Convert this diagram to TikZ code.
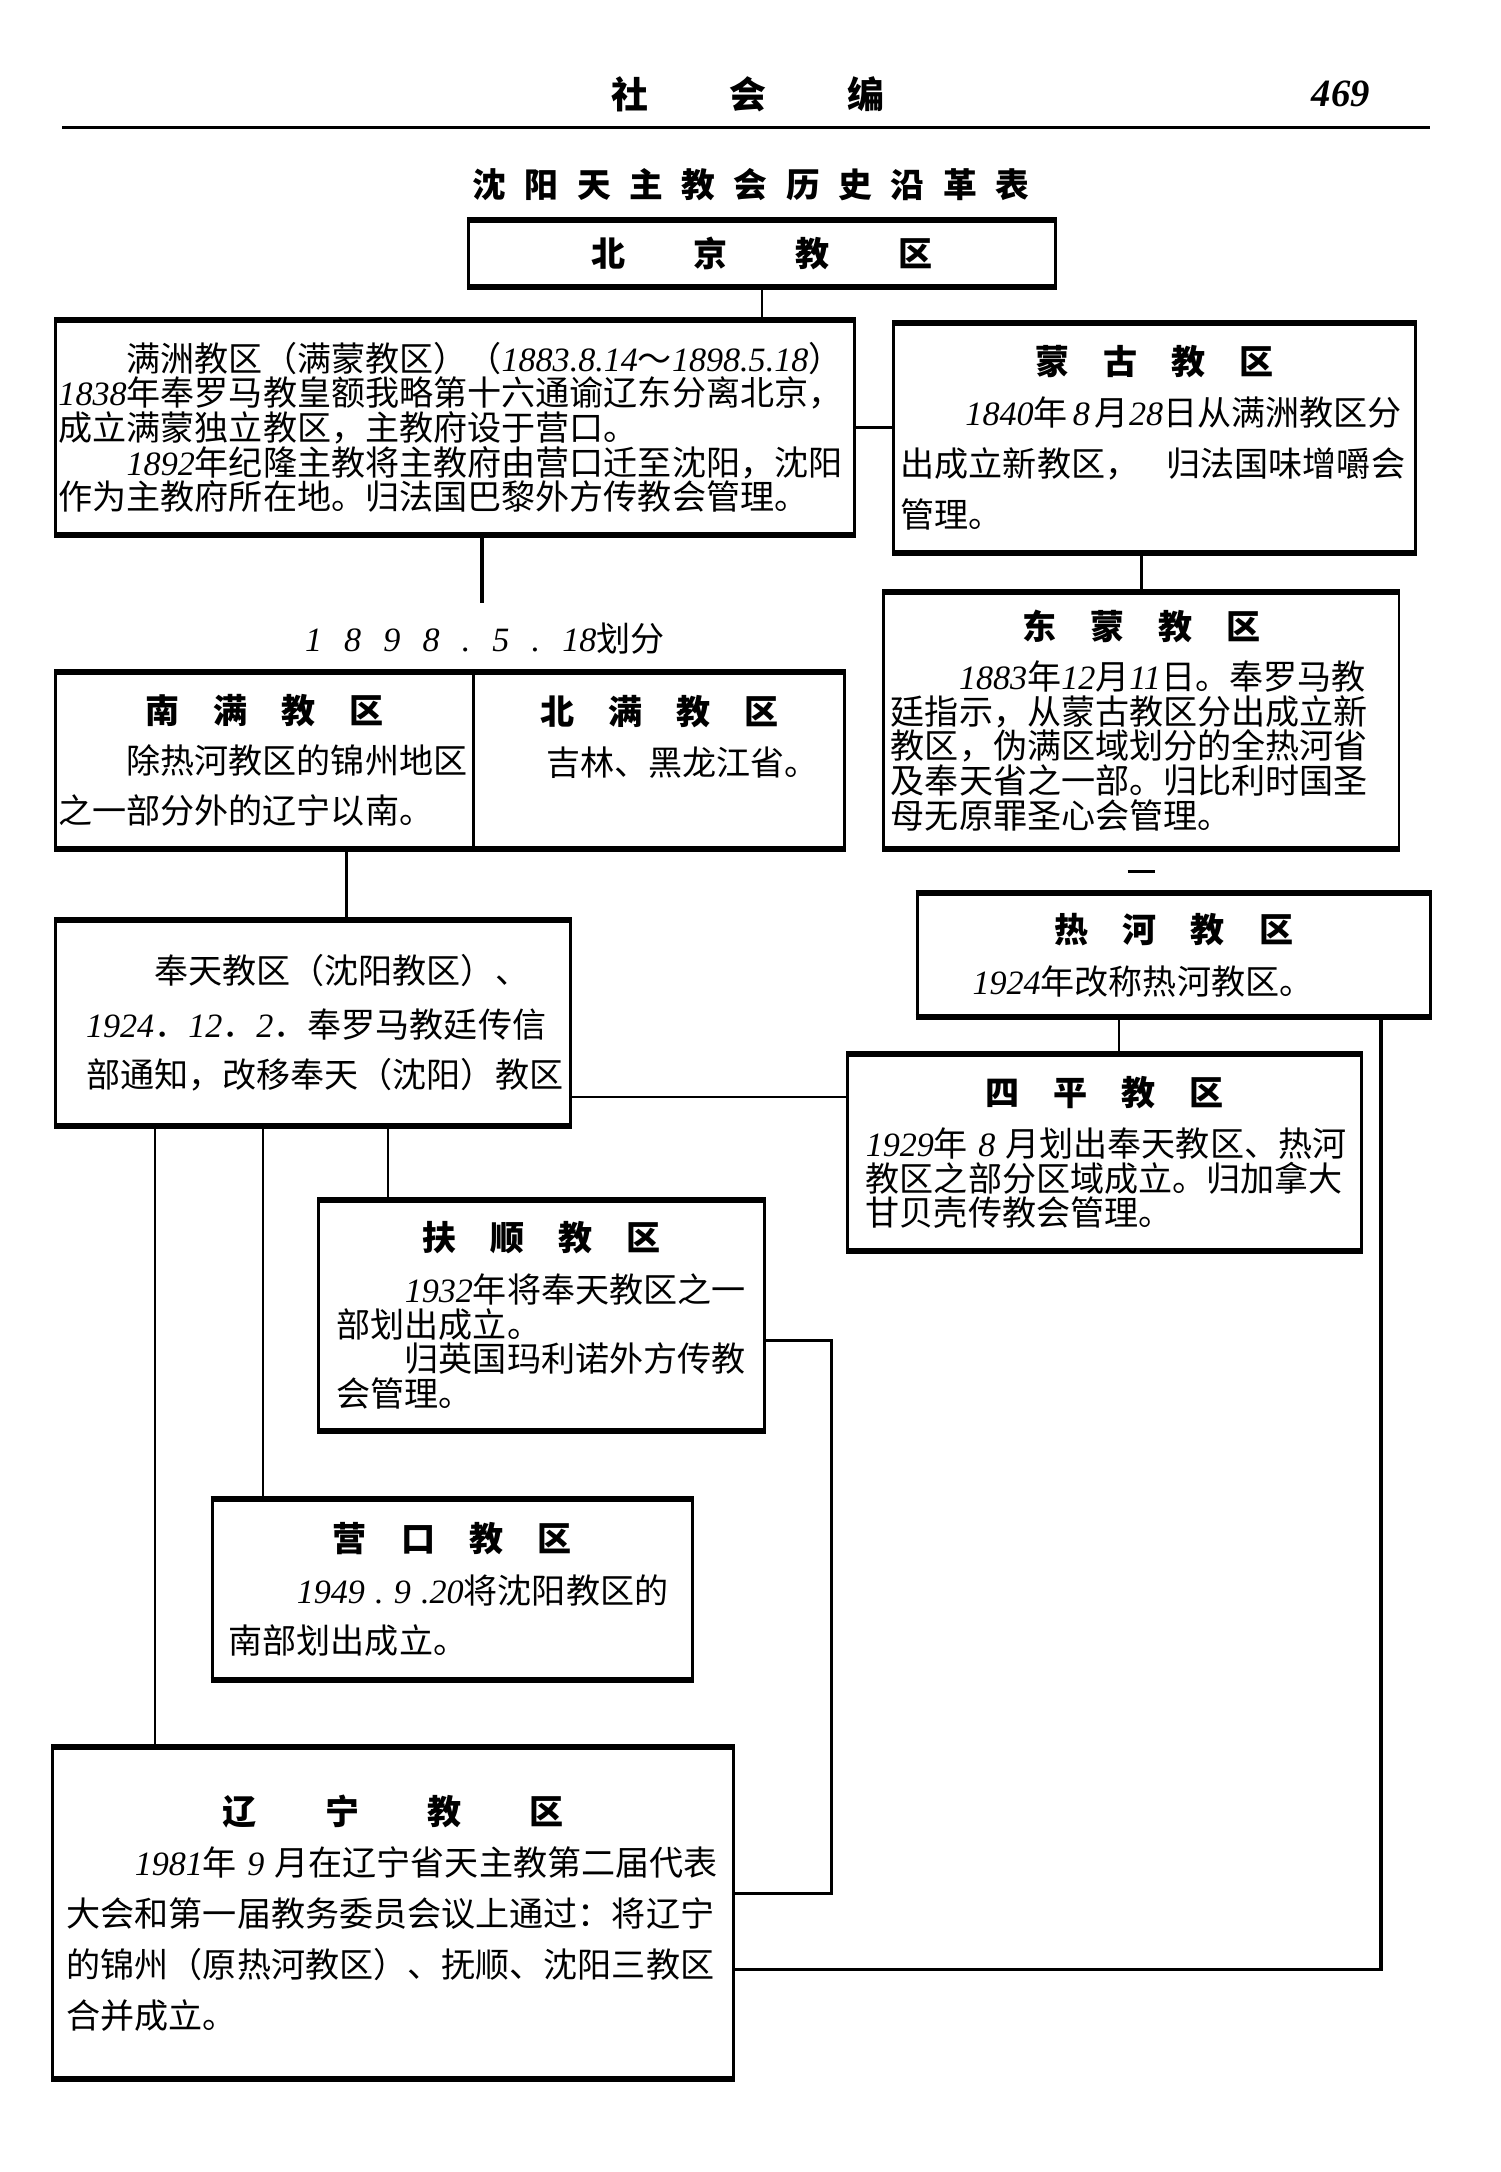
\documentclass[tikz,border=0pt]{standalone}
\usepackage{fontspec}
\setmainfont{Liberation Serif}
\newfontfamily\cjk{Noto Sans CJK SC}
\usetikzlibrary{calc}
\newcommand\dg[1]{{\rmfamily\mdseries\itshape #1}}
\newcommand\bodyfont{\cjk\fontsize{9.7pt}{9.85pt}\selectfont}
\newcommand\ttl[1]{\makebox[\linewidth]{\bfseries #1}}
\newcommand\kgap{\hspace{1em}}
\newcommand\tsp{\hspace{0.55em}}
\tikzset{
  box/.style={draw, line width=0.8pt, rectangle, font=\bodyfont, align=left, inner ysep=1pt},
  conn/.style={line width=0.7pt},
  edgethick/.style={line width=1.7pt},
}
\begin{document}
\begin{tikzpicture}[x=0.01385cm, y=-0.01385cm]
\fill[white] (0,0) rectangle (1083,1568);
\useasboundingbox (0,0) rectangle (1083,1568);

% header
\node[font=\cjk\bfseries\fontsize{10.5pt}{12pt}\selectfont] (header) at (540,68) {社\hspace{2.2em}会\hspace{2.2em}编};
\node[font=\rmfamily\bfseries\itshape\fontsize{11pt}{12pt}\selectfont] (pageno) at (968,68) {469};
\draw[line width=0.9pt] (45,92) -- (1032,92);
\node[font=\cjk\bfseries\fontsize{9.6pt}{12pt}\selectfont] (title) at (542,133)
  {沈\tsp 阳\tsp 天\tsp 主\tsp 教\tsp 会\tsp 历\tsp 史\tsp 沿\tsp 革\tsp 表};

% boxes
\node[box, minimum width=167.1pt, minimum height=18.1pt, inner sep=0pt, font=\bodyfont\bfseries] (beijing) at (550,183)
  {北\hspace{2em}京\hspace{2em}教\hspace{2em}区};

\node[box, minimum width=227.3pt, minimum height=60.3pt, inner xsep=0.8pt, text width=225.7pt] (manzhou) at (328.5,308.5)
  {\mbox{\hspace{2em}满洲教区（满蒙教区）（\dg{1883.8.14}～\dg{1898.5.18}）}\\
   \mbox{\dg{1838}年奉罗马教皇额我略第十六通谕辽东分离北京，}\\
   \mbox{成立满蒙独立教区，主教府设于营口。}\\
   \mbox{\hspace{2em}\dg{1892}年纪隆主教将主教府由营口迁至沈阳，沈阳}\\
   \mbox{作为主教府所在地。归法国巴黎外方传教会管理。}};

\node[box, minimum width=148.5pt, minimum height=64.6pt, inner xsep=2pt, text width=144.5pt] (menggu) at (833.5,316)
  {\ttl{蒙\kgap 古\kgap 教\kgap 区}\\[4.7pt]
   \mbox{\hspace{1.9em}\dg{1840}年\hspace{0.15em}\dg{8}\hspace{0.15em}月\dg{28}日从满洲教区分}\\[4.7pt]
   \mbox{出成立新教区，\hspace{0.8em}归法国味增嚼会}\\[4.7pt]
   管理。};

\node[box, minimum width=146.6pt, minimum height=72.5pt, inner xsep=2pt, text width=142.6pt] (dongmeng) at (824,520)
  {\ttl{东\kgap 蒙\kgap 教\kgap 区}\\[4.5pt]
   \mbox{\hspace{2em}\dg{1883}年\dg{12}月\dg{11}日。奉罗马教}\\
   \mbox{廷指示，从蒙古教区分出成立新}\\
   \mbox{教区，伪满区域划分的全热河省}\\
   \mbox{及奉天省之一部。归比利时国圣}\\
   \mbox{母无原罪圣心会管理。}};

\node[box, minimum width=146.2pt, minimum height=34.3pt, inner xsep=5.1pt, text width=136pt] (rehe) at (847.5,689.5)
  {\ttl{热\kgap 河\kgap 教\kgap 区}\\[5pt]
   \mbox{\hspace{1.1em}\dg{1924}年改称热河教区。}};

\node[box, minimum width=146.2pt, minimum height=55.2pt, inner xsep=5.1pt, text width=136pt] (siping) at (797.5,832)
  {\ttl{四\kgap 平\kgap 教\kgap 区}\\[4.7pt]
   \mbox{\dg{1929}年\hspace{0.3em}\dg{8}\hspace{0.3em}月划出奉天教区、热河}\\
   \mbox{教区之部分区域成立。归加拿大}\\
   \mbox{甘贝壳传教会管理。}};

\node[font=\bodyfont] (splitlabel) at (350,461)
  {\dg{1\hspace{0.65em}8\hspace{0.65em}9\hspace{0.65em}8\hspace{0.65em}.\hspace{0.65em}5\hspace{0.65em}.\hspace{0.65em}18}划分};

\node[box, minimum width=119pt, minimum height=49.6pt, inner xsep=0.8pt, text width=117.4pt] (nanman) at (191,549)
  {\ttl{南\kgap 满\kgap 教\kgap 区}\\[4.4pt]
   \mbox{\hspace{2em}除热河教区的锦州地区}\\[4.4pt]
   \mbox{之一部分外的辽宁以南。}};

\node[box, minimum width=105.6pt, minimum height=49.6pt, inner xsep=1.2pt, text width=103.2pt] (beiman) at (476,549)
  {\ttl{北\kgap 满\kgap 教\kgap 区}\\[4.4pt]
   \mbox{\hspace{2em}吉林、黑龙江省。}\\[4.4pt]
   \mbox{}};

\node[box, minimum width=146.6pt, minimum height=57.9pt, inner xsep=8.7pt, text width=129.2pt] (fengtian) at (226,738.5)
  {\mbox{\hspace{2em}奉天教区（沈阳教区）、}\\[5.5pt]
   \mbox{\dg{1924}．\dg{12}．\dg{2}．奉罗马教廷传信}\\[4.3pt]
   \mbox{部通知，改移奉天（沈阳）教区}};

\node[box, minimum width=126.9pt, minimum height=65pt, inner xsep=5.1pt, text width=116.7pt] (fushun) at (391,949.5)
  {\ttl{扶\kgap 顺\kgap 教\kgap 区}\\[5pt]
   \mbox{\hspace{2em}\dg{1932}年将奉天教区之一}\\
   \mbox{部划出成立。}\\
   \mbox{\hspace{2em}归英国玛利诺外方传教}\\
   \mbox{会管理。}};

\node[box, minimum width=136.7pt, minimum height=50.8pt, inner xsep=4.7pt, text width=127.3pt] (yingkou) at (326.5,1147.5)
  {\ttl{营\kgap 口\kgap 教\kgap 区}\\[5pt]
   \mbox{\hspace{2em}\dg{1949\hspace{0.3em}.\hspace{0.3em}9\hspace{0.3em}.20}将沈阳教区的}\\[4.5pt]
   \mbox{南部划出成立。}};

\node[box, minimum width=193.8pt, minimum height=93.8pt, inner xsep=3.9pt, text width=186pt] (liaoning) at (284,1381)
  {\ttl{辽\hspace{2em}宁\hspace{2em}教\hspace{2em}区}\\[4.7pt]
   \mbox{\hspace{2em}\dg{1981}年\hspace{0.3em}\dg{9}\hspace{0.3em}月在辽宁省天主教第二届代表}\\[4.7pt]
   \mbox{大会和第一届教务委员会议上通过：将辽宁}\\[4.7pt]
   \mbox{的锦州（原热河教区）、抚顺、沈阳三教区}\\[4.7pt]
   \mbox{合并成立。}};

% thick top and bottom edges
\foreach \n in {beijing,manzhou,menggu,dongmeng,rehe,siping,nanman,beiman,fengtian,fushun,yingkou,liaoning}{
  \draw[edgethick] (\n.north west) -- (\n.north east);
  \draw[edgethick] (\n.south west) -- (\n.south east);
}

% helper coordinates
\coordinate (splitend) at (348,435);
\coordinate (rsx) at (808,0);
\coordinate (rx) at (997,1422);
\coordinate (fy) at (0,792);
\coordinate (nfx) at (250,0);
\coordinate (lx) at (112,0);
\coordinate (yx) at (190,0);
\coordinate (fx) at (280,0);
\coordinate (fb) at (600,968);
\coordinate (fc) at (600,1367);

% connectors
\draw[conn] (beijing.south) -- (manzhou.north -| beijing.south);
\draw[conn] (manzhou.east) -- (manzhou.east -| menggu.west);
\draw[conn, line width=1.3pt] (manzhou.south -| splitend) -- (splitend);
\draw[conn] (menggu.south -| dongmeng.north) -- (dongmeng.north);
\draw[conn, line width=0.9pt] ($(dongmeng.south)+(-10,16)$) -- ($(dongmeng.south)+(10,16)$);
\draw[conn] (rehe.south -| rsx) -- (siping.north -| rsx);
\draw[conn, line width=0.9pt] (rehe.south -| rx) -- (rx) -- (liaoning.east |- rx);
\draw[conn] (fengtian.east |- fy) -- (siping.west |- fy);
\draw[conn] (nanman.south -| nfx) -- (fengtian.north -| nfx);
\draw[conn] (fengtian.south -| lx) -- (liaoning.north -| lx);
\draw[conn] (fengtian.south -| yx) -- (yingkou.north -| yx);
\draw[conn] (fengtian.south -| fx) -- (fushun.north -| fx);
\draw[conn, line width=0.9pt] (fushun.east |- fb) -- (fb) -- (fc) -- (liaoning.east |- fc);
\end{tikzpicture}
\end{document}
